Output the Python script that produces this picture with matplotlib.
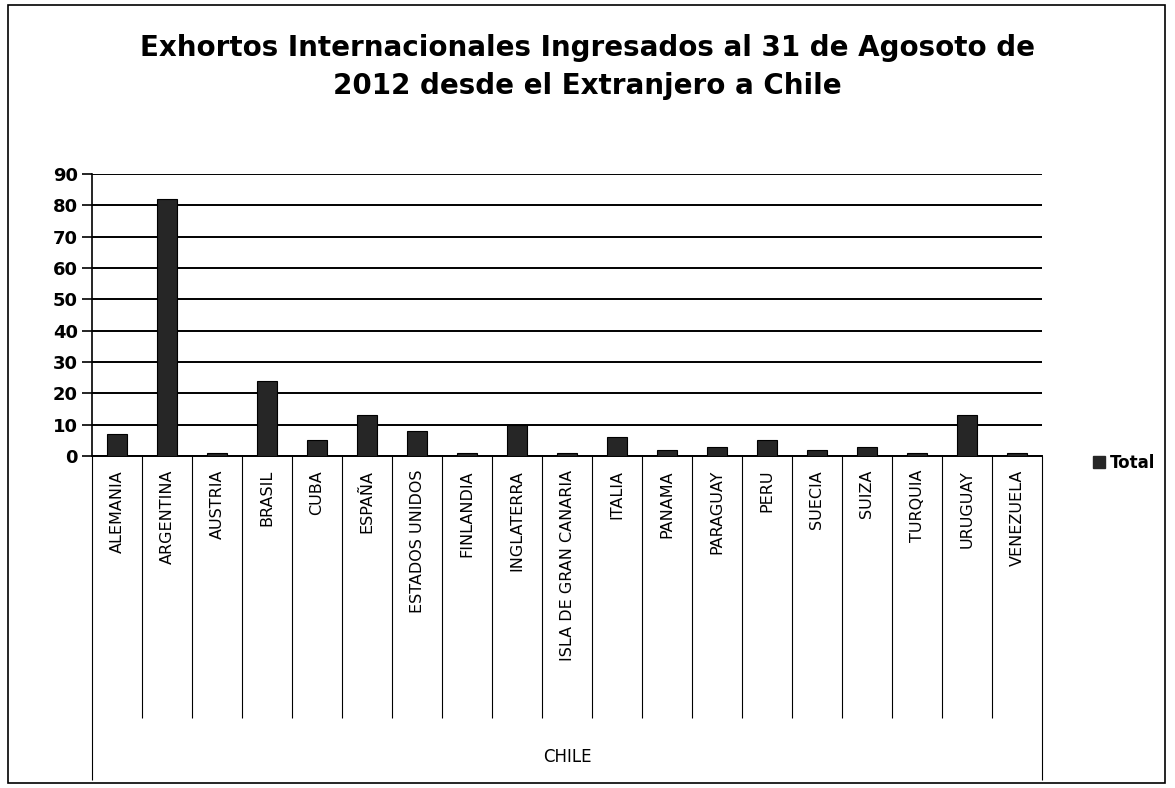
import numpy as np
import matplotlib.pyplot as plt
from matplotlib.patches import Rectangle

paises = ['ALEMANIA', 'ARGENTINA', 'AUSTRIA', 'BRASIL', 'CUBA', 'ESPAÑA',
          'ESTADOS UNIDOS', 'FINLANDIA', 'INGLATERRA', 'ISLA DE GRAN CANARIA',
          'ITALIA', 'PANAMA', 'PARAGUAY', 'PERU', 'SUECIA', 'SUIZA',
          'TURQUIA', 'URUGUAY', 'VENEZUELA']
total = [7, 82, 1, 24, 5, 13, 8, 1, 10, 1, 6, 2, 3, 5, 2, 3, 1, 13, 1]
grupo = 'CHILE'
yticks = [0, 10, 20, 30, 40, 50, 60, 70, 80, 90]
titulo = 'Exhortos Internacionales Ingresados al 31 de Agosoto de\n2012 desde el Extranjero a Chile'

W, H = 1175, 788
fig = plt.figure(figsize=(W / 100, H / 100), dpi=100)

# axes box in pixels
x0, x1, ytop, yzero = 92, 1042, 174, 456
ax = fig.add_axes([x0 / W, (H - yzero) / H, (x1 - x0) / W, (yzero - ytop) / H])

x = np.arange(len(paises))
ax.bar(x, total, width=0.4, color='#262626', edgecolor='black', linewidth=0.8, zorder=3)

ax.set_xlim(-0.5, len(paises) - 0.5)
ax.set_ylim(0, 90)
ax.set_yticks(yticks)
ax.yaxis.grid(True, color='black', linewidth=1.4)
ax.set_axisbelow(True)
for s in ['top', 'right']:
    ax.spines[s].set_visible(False)
ax.spines['left'].set_linewidth(1.2)
ax.spines['bottom'].set_linewidth(1.4)
ax.tick_params(axis='y', length=7, width=1.2, pad=3, labelsize=13)
for lbl in ax.get_yticklabels():
    lbl.set_fontweight('bold')

ax.set_xticks(x)
ax.set_xticklabels(paises, rotation=90, fontsize=11.5, va='top', ha='center')
ax.tick_params(axis='x', length=0, pad=10)

# multi-level category axis lines
ax_h = yzero - ytop
inner = -(718 - yzero) / ax_h
outer = -(780 - yzero) / ax_h
tr = ax.get_xaxis_transform()
bounds = np.arange(len(paises) + 1) - 0.5
ax.vlines(bounds[1:-1], inner, 0, transform=tr, color='black', linewidth=0.8, clip_on=False)
ax.vlines([bounds[0], bounds[-1]], outer, 0, transform=tr, color='black', linewidth=0.8, clip_on=False)
ax.text((len(paises) - 1) / 2, -(757 - yzero) / ax_h, grupo, transform=tr,
        ha='center', va='center', fontsize=12)

fig.text(0.5, 1 - 67 / H, titulo, ha='center', va='center', fontsize=20,
         fontweight='bold', linespacing=1.5)

ax.legend([plt.Rectangle((0, 0), 1, 1, color='#262626')], ['Total'],
          loc='center left', bbox_to_anchor=(1078 / W, 1 - 463 / H),
          bbox_transform=fig.transFigure, frameon=False, handlelength=0.7,
          handleheight=0.7, handletextpad=0.3, prop={'weight': 'bold', 'size': 12})

fig.patches.append(Rectangle((8 / W, 5 / H), 1157 / W, 778 / H, transform=fig.transFigure,
                             fill=False, edgecolor='black', linewidth=1.2))

fig.savefig('out.png', dpi=100)
